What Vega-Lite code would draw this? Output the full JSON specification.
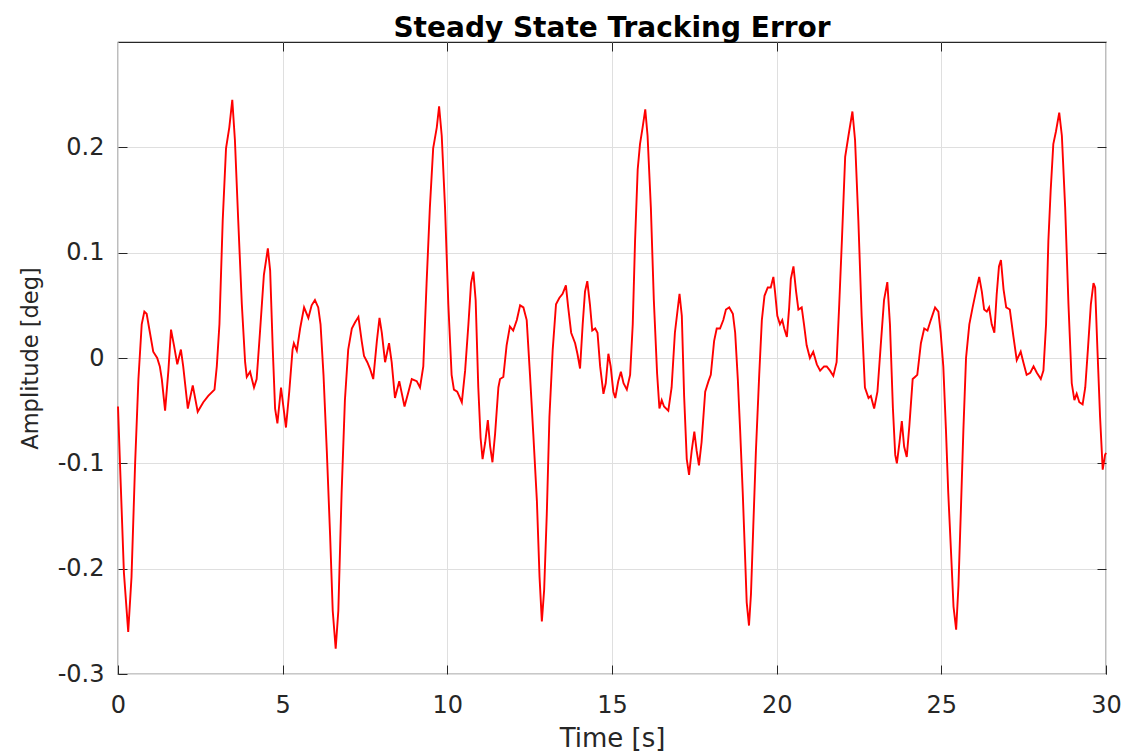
{
  "$schema": "https://vega.github.io/schema/vega-lite/v6.json",
  "width": 988,
  "height": 632,
  "autosize": {"type": "none"},
  "padding": {"left": 118, "top": 42, "right": 35, "bottom": 80},
  "background": "white",
  "title": {"text": "Steady State Tracking Error", "font": "DejaVu Sans", "fontSize": 28, "fontWeight": "bold", "color": "#000000", "anchor": "middle", "frame": "group", "offset": -1},
  "config": {"font": "DejaVu Sans", "view": {"stroke": "#262626", "strokeWidth": 1.2}},
  "data": {"values": [
    {"t":0.00,"y":-0.046},{"t":0.06,"y":-0.100},{"t":0.18,"y":-0.204},{"t":0.31,"y":-0.260},{"t":0.41,"y":-0.208},{"t":0.52,"y":-0.100},{"t":0.62,"y":-0.020},{"t":0.72,"y":0.032},{"t":0.80,"y":0.044},{"t":0.87,"y":0.042},{"t":0.97,"y":0.024},{"t":1.07,"y":0.006},{"t":1.19,"y":0.000},{"t":1.27,"y":-0.008},{"t":1.33,"y":-0.020},{"t":1.43,"y":-0.050},{"t":1.53,"y":-0.012},{"t":1.61,"y":0.027},{"t":1.70,"y":0.012},{"t":1.80,"y":-0.006},{"t":1.91,"y":0.008},{"t":1.98,"y":-0.008},{"t":2.12,"y":-0.048},{"t":2.27,"y":-0.026},{"t":2.42,"y":-0.051},{"t":2.59,"y":-0.042},{"t":2.74,"y":-0.036},{"t":2.93,"y":-0.030},{"t":3.00,"y":-0.008},{"t":3.08,"y":0.032},{"t":3.18,"y":0.131},{"t":3.28,"y":0.199},{"t":3.38,"y":0.219},{"t":3.47,"y":0.245},{"t":3.55,"y":0.207},{"t":3.65,"y":0.131},{"t":3.76,"y":0.051},{"t":3.86,"y":-0.004},{"t":3.91,"y":-0.018},{"t":4.01,"y":-0.013},{"t":4.13,"y":-0.028},{"t":4.21,"y":-0.020},{"t":4.31,"y":0.024},{"t":4.43,"y":0.079},{"t":4.55,"y":0.104},{"t":4.62,"y":0.083},{"t":4.70,"y":0.008},{"t":4.77,"y":-0.048},{"t":4.84,"y":-0.062},{"t":4.95,"y":-0.028},{"t":5.10,"y":-0.066},{"t":5.20,"y":-0.032},{"t":5.30,"y":0.008},{"t":5.34,"y":0.014},{"t":5.43,"y":0.007},{"t":5.53,"y":0.028},{"t":5.65,"y":0.048},{"t":5.78,"y":0.038},{"t":5.88,"y":0.050},{"t":5.98,"y":0.055},{"t":6.08,"y":0.048},{"t":6.15,"y":0.032},{"t":6.24,"y":-0.016},{"t":6.34,"y":-0.088},{"t":6.44,"y":-0.168},{"t":6.52,"y":-0.240},{"t":6.61,"y":-0.276},{"t":6.69,"y":-0.240},{"t":6.79,"y":-0.128},{"t":6.89,"y":-0.040},{"t":6.99,"y":0.008},{"t":7.10,"y":0.028},{"t":7.20,"y":0.034},{"t":7.30,"y":0.039},{"t":7.40,"y":0.016},{"t":7.47,"y":0.002},{"t":7.57,"y":-0.004},{"t":7.65,"y":-0.010},{"t":7.75,"y":-0.020},{"t":7.86,"y":0.016},{"t":7.94,"y":0.038},{"t":8.01,"y":0.024},{"t":8.11,"y":-0.004},{"t":8.23,"y":0.014},{"t":8.31,"y":-0.004},{"t":8.41,"y":-0.038},{"t":8.54,"y":-0.022},{"t":8.70,"y":-0.046},{"t":8.82,"y":-0.032},{"t":8.92,"y":-0.020},{"t":9.07,"y":-0.022},{"t":9.17,"y":-0.028},{"t":9.27,"y":-0.008},{"t":9.37,"y":0.071},{"t":9.47,"y":0.143},{"t":9.57,"y":0.199},{"t":9.68,"y":0.219},{"t":9.75,"y":0.239},{"t":9.83,"y":0.211},{"t":9.93,"y":0.143},{"t":10.03,"y":0.051},{"t":10.13,"y":-0.016},{"t":10.20,"y":-0.030},{"t":10.30,"y":-0.032},{"t":10.44,"y":-0.042},{"t":10.54,"y":-0.012},{"t":10.64,"y":0.032},{"t":10.72,"y":0.071},{"t":10.79,"y":0.082},{"t":10.86,"y":0.055},{"t":10.94,"y":-0.028},{"t":11.01,"y":-0.076},{"t":11.07,"y":-0.096},{"t":11.15,"y":-0.080},{"t":11.23,"y":-0.059},{"t":11.30,"y":-0.084},{"t":11.37,"y":-0.099},{"t":11.45,"y":-0.072},{"t":11.55,"y":-0.028},{"t":11.60,"y":-0.020},{"t":11.70,"y":-0.018},{"t":11.80,"y":0.012},{"t":11.90,"y":0.030},{"t":12.00,"y":0.026},{"t":12.11,"y":0.036},{"t":12.21,"y":0.050},{"t":12.31,"y":0.048},{"t":12.41,"y":0.036},{"t":12.51,"y":-0.016},{"t":12.61,"y":-0.072},{"t":12.72,"y":-0.136},{"t":12.80,"y":-0.208},{"t":12.87,"y":-0.250},{"t":12.94,"y":-0.220},{"t":13.02,"y":-0.148},{"t":13.10,"y":-0.056},{"t":13.20,"y":0.008},{"t":13.30,"y":0.051},{"t":13.40,"y":0.057},{"t":13.50,"y":0.061},{"t":13.60,"y":0.069},{"t":13.67,"y":0.048},{"t":13.76,"y":0.024},{"t":13.88,"y":0.014},{"t":13.95,"y":0.004},{"t":14.03,"y":-0.010},{"t":14.11,"y":0.032},{"t":14.18,"y":0.063},{"t":14.25,"y":0.073},{"t":14.33,"y":0.051},{"t":14.40,"y":0.026},{"t":14.49,"y":0.028},{"t":14.56,"y":0.024},{"t":14.64,"y":-0.008},{"t":14.74,"y":-0.034},{"t":14.81,"y":-0.024},{"t":14.89,"y":0.004},{"t":14.96,"y":-0.008},{"t":15.04,"y":-0.032},{"t":15.10,"y":-0.038},{"t":15.19,"y":-0.022},{"t":15.27,"y":-0.013},{"t":15.35,"y":-0.024},{"t":15.45,"y":-0.030},{"t":15.55,"y":-0.016},{"t":15.63,"y":0.032},{"t":15.70,"y":0.111},{"t":15.78,"y":0.179},{"t":15.85,"y":0.203},{"t":15.93,"y":0.219},{"t":16.01,"y":0.236},{"t":16.08,"y":0.211},{"t":16.18,"y":0.143},{"t":16.27,"y":0.055},{"t":16.37,"y":-0.015},{"t":16.44,"y":-0.048},{"t":16.51,"y":-0.040},{"t":16.58,"y":-0.046},{"t":16.71,"y":-0.050},{"t":16.81,"y":-0.028},{"t":16.91,"y":0.024},{"t":17.05,"y":0.061},{"t":17.12,"y":0.040},{"t":17.19,"y":-0.036},{"t":17.27,"y":-0.096},{"t":17.34,"y":-0.111},{"t":17.42,"y":-0.088},{"t":17.50,"y":-0.070},{"t":17.57,"y":-0.088},{"t":17.64,"y":-0.102},{"t":17.72,"y":-0.080},{"t":17.83,"y":-0.032},{"t":17.93,"y":-0.022},{"t":18.00,"y":-0.016},{"t":18.10,"y":0.016},{"t":18.18,"y":0.028},{"t":18.28,"y":0.028},{"t":18.38,"y":0.036},{"t":18.46,"y":0.046},{"t":18.56,"y":0.048},{"t":18.67,"y":0.042},{"t":18.74,"y":0.024},{"t":18.82,"y":-0.020},{"t":18.89,"y":-0.068},{"t":18.97,"y":-0.128},{"t":19.04,"y":-0.188},{"t":19.09,"y":-0.232},{"t":19.16,"y":-0.254},{"t":19.22,"y":-0.224},{"t":19.29,"y":-0.160},{"t":19.37,"y":-0.088},{"t":19.47,"y":-0.016},{"t":19.55,"y":0.036},{"t":19.63,"y":0.059},{"t":19.73,"y":0.067},{"t":19.82,"y":0.067},{"t":19.90,"y":0.077},{"t":19.95,"y":0.063},{"t":20.02,"y":0.040},{"t":20.10,"y":0.032},{"t":20.17,"y":0.036},{"t":20.23,"y":0.028},{"t":20.31,"y":0.020},{"t":20.38,"y":0.048},{"t":20.43,"y":0.075},{"t":20.51,"y":0.087},{"t":20.59,"y":0.063},{"t":20.66,"y":0.046},{"t":20.76,"y":0.048},{"t":20.83,"y":0.032},{"t":20.91,"y":0.012},{"t":21.01,"y":0.000},{"t":21.11,"y":0.006},{"t":21.22,"y":-0.006},{"t":21.32,"y":-0.012},{"t":21.44,"y":-0.008},{"t":21.52,"y":-0.008},{"t":21.62,"y":-0.012},{"t":21.72,"y":-0.017},{"t":21.82,"y":-0.004},{"t":21.90,"y":0.051},{"t":21.98,"y":0.111},{"t":22.08,"y":0.191},{"t":22.18,"y":0.211},{"t":22.30,"y":0.234},{"t":22.38,"y":0.207},{"t":22.48,"y":0.131},{"t":22.58,"y":0.040},{"t":22.68,"y":-0.028},{"t":22.79,"y":-0.038},{"t":22.86,"y":-0.036},{"t":22.96,"y":-0.048},{"t":23.06,"y":-0.032},{"t":23.16,"y":0.012},{"t":23.26,"y":0.055},{"t":23.36,"y":0.072},{"t":23.44,"y":0.032},{"t":23.53,"y":-0.048},{"t":23.60,"y":-0.092},{"t":23.65,"y":-0.100},{"t":23.73,"y":-0.080},{"t":23.80,"y":-0.060},{"t":23.87,"y":-0.084},{"t":23.95,"y":-0.094},{"t":24.03,"y":-0.064},{"t":24.13,"y":-0.020},{"t":24.20,"y":-0.018},{"t":24.27,"y":-0.016},{"t":24.38,"y":0.014},{"t":24.48,"y":0.028},{"t":24.58,"y":0.026},{"t":24.68,"y":0.036},{"t":24.81,"y":0.048},{"t":24.91,"y":0.044},{"t":24.98,"y":0.024},{"t":25.06,"y":-0.008},{"t":25.14,"y":-0.068},{"t":25.21,"y":-0.128},{"t":25.30,"y":-0.188},{"t":25.37,"y":-0.236},{"t":25.45,"y":-0.258},{"t":25.52,"y":-0.216},{"t":25.59,"y":-0.148},{"t":25.67,"y":-0.068},{"t":25.75,"y":0.000},{"t":25.85,"y":0.032},{"t":25.95,"y":0.048},{"t":26.05,"y":0.063},{"t":26.15,"y":0.077},{"t":26.23,"y":0.063},{"t":26.30,"y":0.046},{"t":26.38,"y":0.044},{"t":26.45,"y":0.048},{"t":26.53,"y":0.032},{"t":26.61,"y":0.024},{"t":26.68,"y":0.060},{"t":26.75,"y":0.087},{"t":26.81,"y":0.093},{"t":26.89,"y":0.065},{"t":26.97,"y":0.048},{"t":27.08,"y":0.046},{"t":27.19,"y":0.020},{"t":27.29,"y":-0.002},{"t":27.41,"y":0.006},{"t":27.49,"y":-0.004},{"t":27.59,"y":-0.016},{"t":27.70,"y":-0.014},{"t":27.80,"y":-0.008},{"t":27.90,"y":-0.014},{"t":28.02,"y":-0.020},{"t":28.10,"y":-0.012},{"t":28.18,"y":0.032},{"t":28.25,"y":0.111},{"t":28.32,"y":0.159},{"t":28.40,"y":0.203},{"t":28.48,"y":0.215},{"t":28.58,"y":0.233},{"t":28.66,"y":0.211},{"t":28.76,"y":0.143},{"t":28.86,"y":0.051},{"t":28.96,"y":-0.024},{"t":29.04,"y":-0.040},{"t":29.11,"y":-0.034},{"t":29.19,"y":-0.042},{"t":29.29,"y":-0.044},{"t":29.37,"y":-0.028},{"t":29.45,"y":0.008},{"t":29.54,"y":0.051},{"t":29.62,"y":0.071},{"t":29.67,"y":0.067},{"t":29.74,"y":0.008},{"t":29.82,"y":-0.056},{"t":29.90,"y":-0.106},{"t":29.97,"y":-0.092},{"t":30.00,"y":-0.090}
  ]},
  "layer": [
    {
      "mark": {"type": "line", "color": "#ff0000", "strokeWidth": 1.9},
      "encoding": {
        "x": {"field": "t", "type": "quantitative",
          "scale": {"domain": [0, 30], "nice": false, "zero": false},
          "axis": {"orient": "bottom", "values": [0, 5, 10, 15, 20, 25, 30], "grid": true, "gridColor": "#dfdfdf", "gridWidth": 1, "domain": false, "ticks": true, "tickSize": -9, "tickColor": "#262626", "tickWidth": 1, "labelFontSize": 24, "labelColor": "#262626", "labelPadding": 28, "labelFlush": false, "labelOverlap": false, "title": "Time [s]", "titleFontSize": 26, "titleFontWeight": "normal", "titleColor": "#262626", "titleBaseline": "alphabetic", "titleY": 72, "titleX": 494}},
        "y": {"field": "y", "type": "quantitative",
          "scale": {"domain": [-0.3, 0.3], "nice": false, "zero": false},
          "axis": {"orient": "left", "values": [-0.3, -0.2, -0.1, 0, 0.1, 0.2], "grid": true, "gridColor": "#dfdfdf", "gridWidth": 1, "domain": false, "ticks": true, "tickSize": -9, "tickColor": "#262626", "tickWidth": 1, "labelFontSize": 24, "labelColor": "#262626", "labelPadding": 23, "labelFlush": false, "labelOverlap": false, "labelExpr": "datum.value == 0 ? '0' : (datum.value < 0 ? '-' + format(-datum.value, '.1f') : format(datum.value, '.1f'))", "title": "Amplitude [deg]", "titleFontSize": 22.5, "titleFontWeight": "normal", "titleColor": "#262626", "titleX": -76, "titleY": 316}}
      }
    },
    {
      "mark": {"type": "line", "opacity": 0},
      "encoding": {
        "x": {"field": "t", "type": "quantitative",
          "axis": {"orient": "top", "values": [5, 10, 15, 20, 25], "labels": false, "grid": false, "domain": false, "tickSize": -9, "tickColor": "#262626", "tickWidth": 1, "title": null}},
        "y": {"field": "y", "type": "quantitative",
          "axis": {"orient": "right", "values": [-0.2, -0.1, 0, 0.1, 0.2], "labels": false, "grid": false, "domain": false, "tickSize": -9, "tickColor": "#262626", "tickWidth": 1, "title": null}}
      }
    }
  ],
  "resolve": {"axis": {"x": "independent", "y": "independent"}}
}
